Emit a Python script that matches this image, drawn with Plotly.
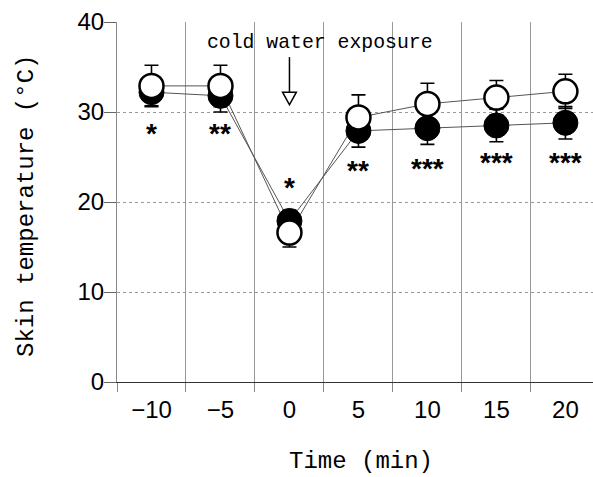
import plotly.graph_objects as go

# ---- data ----
time_labels = ["\u221210", "\u22125", "0", "5", "10", "15", "20"]
filled_mean = [32.2, 31.8, 17.9, 27.9, 28.2, 28.5, 28.8]
filled_sd = [1.5, 1.8, 1.2, 1.8, 1.8, 1.8, 1.8]
open_mean = [32.9, 32.9, 16.6, 29.4, 30.9, 31.6, 32.3]
open_sd = [2.3, 2.3, 1.6, 2.5, 2.3, 1.9, 1.9]
sig_marks = ["*", "**", "*", "**", "***", "***", "***"]
sig_y = [28.0, 28.0, 21.9, 23.8, 24.1, 24.7, 24.7]
y_ticks = [0, 10, 20, 30, 40]

fig = go.Figure()

# error bars (drawn beneath all markers)
for mean, sd in [(filled_mean, filled_sd), (open_mean, open_sd)]:
    fig.add_trace(go.Scatter(
        x=time_labels, y=mean, mode="markers",
        marker=dict(size=1, color="rgba(0,0,0,0)"),
        error_y=dict(type="data", array=sd, symmetric=True,
                     color="black", thickness=1.6, width=7),
        showlegend=False, hoverinfo="skip"))

# connecting lines
for mean in [filled_mean, open_mean]:
    fig.add_trace(go.Scatter(
        x=time_labels, y=mean, mode="lines",
        line=dict(color="#555555", width=1),
        showlegend=False, hoverinfo="skip"))

# markers
fig.add_trace(go.Scatter(
    x=time_labels, y=filled_mean, mode="markers",
    marker=dict(symbol="circle", size=25, color="black",
                line=dict(color="black", width=1)),
    showlegend=False))
fig.add_trace(go.Scatter(
    x=time_labels, y=open_mean, mode="markers",
    marker=dict(symbol="circle", size=24, color="white",
                line=dict(color="black", width=2.5)),
    showlegend=False))

annotations = []
for i, (m, yv) in enumerate(zip(sig_marks, sig_y)):
    annotations.append(dict(
        x=i, y=yv, xref="x", yref="y", text="<b>" + m + "</b>",
        showarrow=False,
        font=dict(family="Liberation Sans", size=28, color="black"),
        yshift=-3))

annotations.append(dict(
    x=2.44, y=37.7, xref="x", yref="y", text="cold water exposure",
    showarrow=False, xanchor="center", yanchor="middle",
    font=dict(family="Liberation Mono", size=19.8, color="black")))

annotations.append(dict(
    x=0.5126, y=-0.222, xref="paper", yref="paper", text="Time (min)",
    showarrow=False, xanchor="center", yanchor="middle",
    font=dict(family="Liberation Mono", size=24, color="black")))
annotations.append(dict(
    x=-0.189, y=0.489, xref="paper", yref="paper",
    text="Skin temperature (\u00b0C)", textangle=-90, showarrow=False,
    xanchor="center", yanchor="middle",
    font=dict(family="Liberation Mono", size=24, color="black")))

shapes = [
    dict(type="line", xref="x", yref="y", x0=2, x1=2, y0=36.1, y1=32.2,
         line=dict(color="black", width=1.5)),
    dict(type="path", xref="x", yref="y",
         path="M 1.9,32.2 L 2.1,32.2 L 2,30.8 Z",
         fillcolor="white", line=dict(color="black", width=1.5)),
]

fig.update_layout(
    width=593, height=477,
    margin=dict(l=117, r=0, t=22, b=95, autoexpand=False),
    paper_bgcolor="white", plot_bgcolor="white",
    annotations=annotations, shapes=shapes,
    xaxis=dict(
        type="category", range=[-0.5, 6.4], tickson="boundaries",
        ticks="outside", ticklen=9, tickcolor="#888888", tickwidth=1,
        showgrid=True, gridcolor="#999999", gridwidth=1,
        showline=True, linecolor="#333333", linewidth=1,
        tickfont=dict(family="Liberation Sans", size=24, color="black"),
        zeroline=False, automargin=False, ticklabelstandoff=6,
    ),
    yaxis=dict(
        range=[0, 40], tickvals=y_ticks,
        ticks="outside", ticklen=12, tickcolor="#666666",
        showgrid=True, gridcolor="#999999", gridwidth=1, griddash="dot",
        showline=True, linecolor="#888888", linewidth=1,
        tickfont=dict(family="Liberation Sans", size=24, color="black"),
        zeroline=False, ticklabelstandoff=-5, automargin=False,
    ),
)

fig.write_html(
    "out.html",
    config={"displayModeBar": False},
    post_script="document.body.style.margin='0';document.body.style.overflow='hidden';",
)
